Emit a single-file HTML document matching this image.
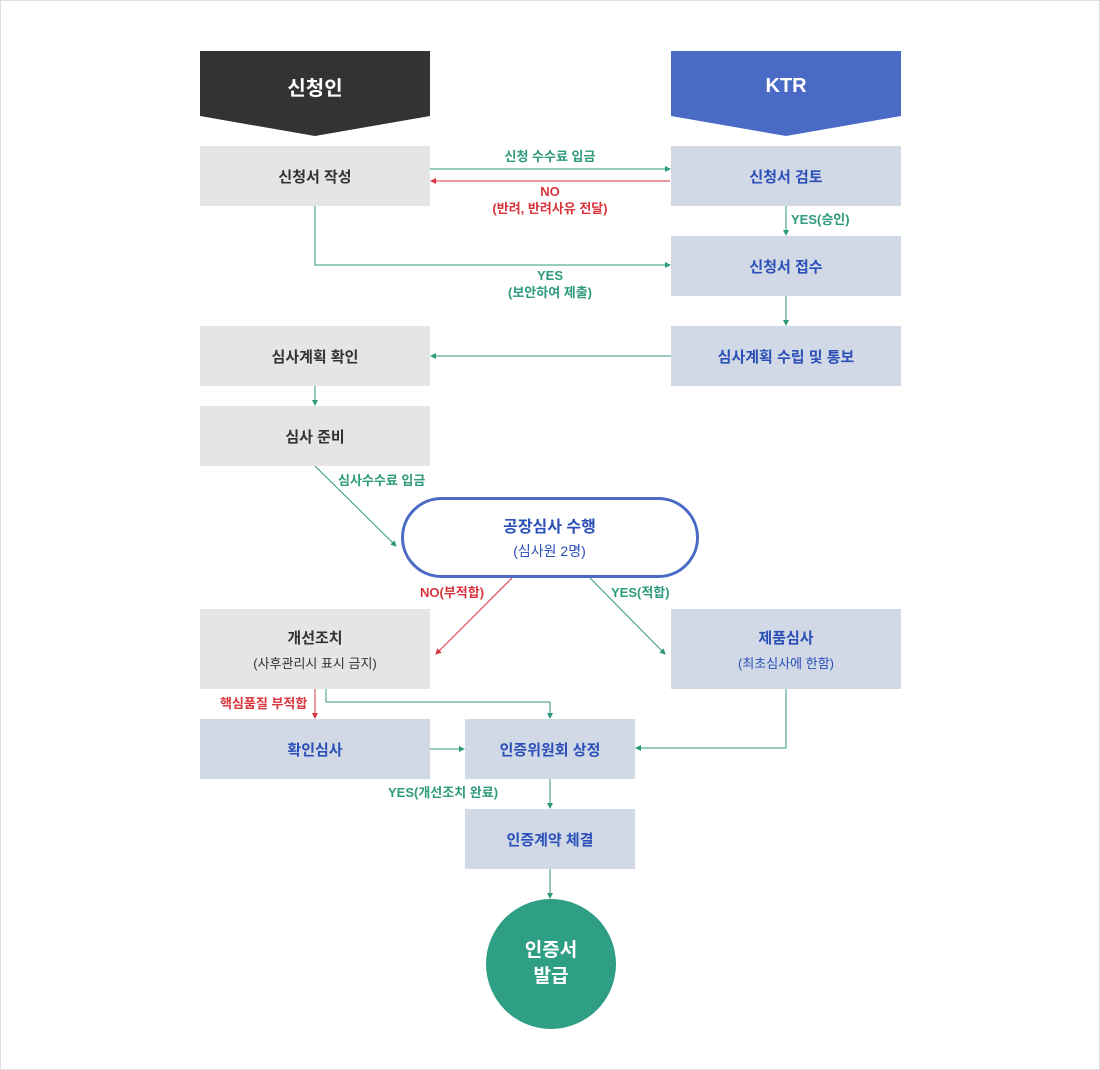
<!DOCTYPE html>
<html><head><meta charset="utf-8"><style>
body{margin:0;width:1100px;height:1070px;background:#fff;font-family:"Liberation Sans","Noto Sans CJK KR",sans-serif;position:relative;overflow:hidden}
.frame{position:absolute;left:0;top:0;width:1098px;height:1068px;border:1px solid #ddd}
.b{position:absolute;display:flex;flex-direction:column;align-items:center;justify-content:center;font-size:15px;font-weight:bold;text-align:center}
.g{background:#e5e5e5;color:#333}
.k{background:#d1d8e6;color:#2b50b8}
.s{font-size:13px;font-weight:normal;margin-top:5px}
.l{position:absolute;font-size:13px;font-weight:bold;text-align:center;line-height:17px}
.gr{color:#2e9a7c}.rd{color:#d8343c}
</style></head><body>
<div class="frame"></div>
<svg width="1100" height="1070" style="position:absolute;left:0;top:0">
<defs>
<marker id="ag" markerWidth="6" markerHeight="6" refX="5" refY="3" orient="auto"><path d="M0,0L6,3L0,6z" fill="#2e9a7c"/></marker>
<marker id="ar" markerWidth="6" markerHeight="6" refX="5" refY="3" orient="auto"><path d="M0,0L6,3L0,6z" fill="#d8343c"/></marker>
</defs>
<polygon points="200,51 430,51 430,116 315,136 200,116" fill="#333"/>
<polygon points="671,51 901,51 901,116 786,136 671,116" fill="#4a6bc5"/>
<g stroke="#2e9a7c" stroke-width="1" fill="none" marker-end="url(#ag)">
<line x1="430" y1="169" x2="670" y2="169"/>
<line x1="786" y1="206" x2="786" y2="235"/>
<polyline points="315,206 315,265 670,265"/>
<line x1="786" y1="296" x2="786" y2="325"/>
<line x1="671" y1="356" x2="431" y2="356"/>
<line x1="315" y1="386" x2="315" y2="405"/>
<line x1="315" y1="466" x2="396" y2="546"/>
<line x1="590" y1="578" x2="665" y2="654"/>
<polyline points="326,689 326,702 550,702 550,718"/>
<line x1="430" y1="749" x2="464" y2="749"/>
<polyline points="786,689 786,748 636,748"/>
<line x1="550" y1="779" x2="550" y2="808"/>
<line x1="550" y1="869" x2="550" y2="898"/>
</g>
<g stroke="#d8343c" stroke-width="1" fill="none" marker-end="url(#ar)">
<line x1="670" y1="181" x2="431" y2="181"/>
<line x1="512" y1="578" x2="436" y2="654"/>
<line x1="315" y1="689" x2="315" y2="718"/>
</g>
<rect x="402.5" y="498.5" width="295" height="78" rx="39" fill="#fff" stroke="#4a6bc5" stroke-width="3"/>
<circle cx="551" cy="964" r="65" fill="#2e9e84"/>
</svg>
<div class="b" style="left:200px;top:51px;width:230px;height:70px;color:#fff;font-size:20px">신청인</div>
<div class="b" style="left:671px;top:51px;width:230px;height:70px;color:#fff;font-size:20px">KTR</div>
<div class="b g" style="left:200px;top:146px;width:230px;height:60px">신청서 작성</div>
<div class="b k" style="left:671px;top:146px;width:230px;height:60px">신청서 검토</div>
<div class="b k" style="left:671px;top:236px;width:230px;height:60px">신청서 접수</div>
<div class="b g" style="left:200px;top:326px;width:230px;height:60px">심사계획 확인</div>
<div class="b k" style="left:671px;top:326px;width:230px;height:60px">심사계획 수립 및 통보</div>
<div class="b g" style="left:200px;top:406px;width:230px;height:60px">심사 준비</div>
<div class="b" style="left:401px;top:497px;width:297px;height:80px;color:#2b50b8;font-size:16px">공장심사 수행<div class="s" style="font-size:14px;margin-top:4px">(심사원 2명)</div></div>
<div class="b g" style="left:200px;top:609px;width:230px;height:80px">개선조치<div class="s">(사후관리시 표시 금지)</div></div>
<div class="b k" style="left:671px;top:609px;width:230px;height:80px">제품심사<div class="s">(최초심사에 한함)</div></div>
<div class="b k" style="left:200px;top:719px;width:230px;height:60px">확인심사</div>
<div class="b k" style="left:465px;top:719px;width:170px;height:60px">인증위원회 상정</div>
<div class="b k" style="left:465px;top:809px;width:170px;height:60px">인증계약 체결</div>
<div class="b" style="left:486px;top:899px;width:130px;height:130px;color:#fff;font-size:19px;line-height:26px">인증서<br>발급</div>
<div class="l gr" style="left:450px;top:148px;width:200px">신청 수수료 입금</div>
<div class="l rd" style="left:450px;top:183px;width:200px">NO<br>(반려, 반려사유 전달)</div>
<div class="l gr" style="left:791px;top:211px">YES(승인)</div>
<div class="l gr" style="left:450px;top:267px;width:200px">YES<br>(보안하여 제출)</div>
<div class="l gr" style="left:338px;top:472px">심사수수료 입금</div>
<div class="l rd" style="left:420px;top:584px">NO(부적합)</div>
<div class="l gr" style="left:611px;top:584px">YES(적합)</div>
<div class="l rd" style="left:220px;top:695px">핵심품질 부적합</div>
<div class="l gr" style="left:388px;top:784px">YES(개선조치 완료)</div>
</body></html>
